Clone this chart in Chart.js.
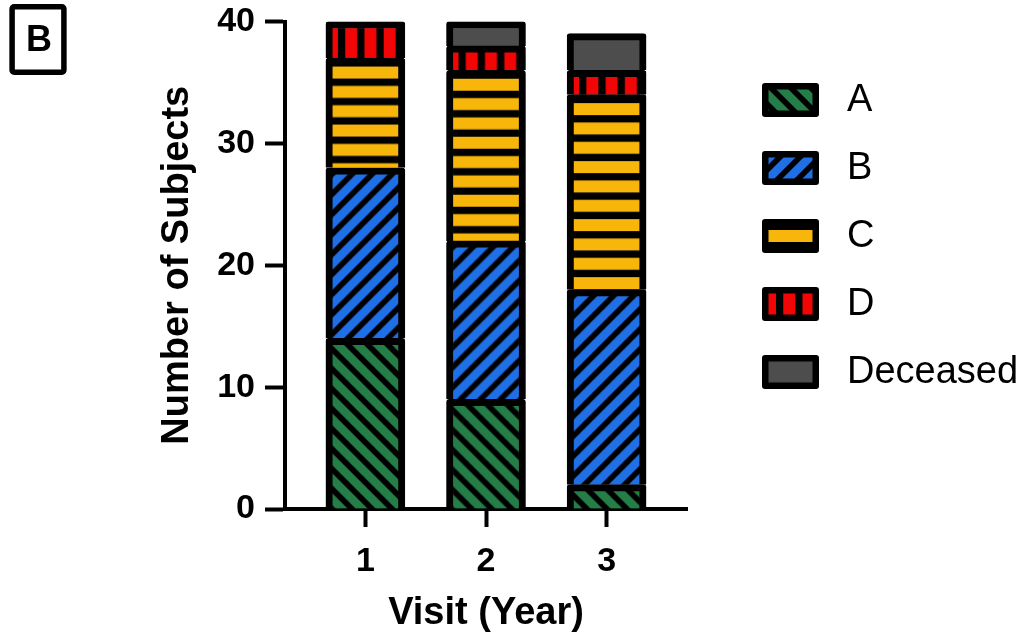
<!DOCTYPE html>
<html>
<head>
<meta charset="utf-8">
<script src="https://cdn.jsdelivr.net/npm/chart.js@4.4.1/dist/chart.umd.min.js"></script>
<style>
  html, body { margin: 0; padding: 0; background: #ffffff; }
  #wrap { width: 1027px; height: 639px; position: relative; }
</style>
</head>
<body>
<div id="wrap"><canvas id="chart" width="1027" height="639"></canvas></div>
<script>
// ---- data ----
const visits = [1, 2, 3];
const groupLabels = ['A', 'B', 'C', 'D', 'Deceased'];
const groupA = [14, 9, 2];
const groupB = [14, 13, 16];
const groupC = [9, 14, 16];
const groupD = [3, 2, 2];
const groupDeceased = [0, 2, 3];
const yTicks = [0, 10, 20, 30, 40];

// ---- styling ----
const FONT = '"Liberation Sans", Arial, Helvetica, sans-serif';
const BAR_W = 79;
const BORDER = 7;
const styles = [
  { kind: 'backslash', color: '#257d47' },
  { kind: 'slash',     color: '#1f6fe6' },
  { kind: 'hstripe',   color: '#f8b60b' },
  { kind: 'vstripe',   color: '#f20505' },
  { kind: 'solid',     color: '#4d4d4d' }
];

// Build a repeating fill for a style (black hatch over the base colour).
const tileCache = {};
function makeTile(style) {
  if (tileCache[style.kind]) return tileCache[style.kind];
  const c = document.createElement('canvas');
  const g = c.getContext('2d');
  if (style.kind === 'slash' || style.kind === 'backslash') {
    const p = 20, w = 8;
    c.width = p; c.height = p;
    g.fillStyle = style.color; g.fillRect(0, 0, p, p);
    g.fillStyle = '#000';
    if (style.kind === 'slash') {
      for (let k = 0; k <= 2; k++) {
        const o = k * p;
        g.beginPath();
        g.moveTo(o, 0); g.lineTo(o + w, 0); g.lineTo(o + w - p, p); g.lineTo(o - p, p);
        g.closePath(); g.fill();
      }
    } else {
      for (let k = -1; k <= 0; k++) {
        const o = k * p;
        g.beginPath();
        g.moveTo(o, 0); g.lineTo(o + w, 0); g.lineTo(o + w + p, p); g.lineTo(o + p, p);
        g.closePath(); g.fill();
      }
    }
  } else if (style.kind === 'hstripe') {
    const period = 58 / 3;
    c.width = 8; c.height = 58;
    g.fillStyle = '#000'; g.fillRect(0, 0, 8, 58);
    g.fillStyle = style.color;
    for (let k = 0; k < 3; k++) g.fillRect(0, k * period, 8, 12);
  } else if (style.kind === 'vstripe') {
    const period = 77 / 4;
    c.width = 77; c.height = 8;
    g.fillStyle = '#000'; g.fillRect(0, 0, 77, 8);
    g.fillStyle = style.color;
    for (let k = 0; k < 4; k++) g.fillRect(k * period, 0, 12, 8);
  } else {
    c.width = 4; c.height = 4;
    g.fillStyle = style.color; g.fillRect(0, 0, 4, 4);
  }
  tileCache[style.kind] = c;
  return c;
}

function patternAt(ctx2d, style, ox, oy) {
  if (style.kind === 'solid') return style.color;
  const pat = ctx2d.createPattern(makeTile(style), 'repeat');
  pat.setTransform(new DOMMatrix().translate(ox, oy));
  return pat;
}

const seriesValues = [groupA, groupB, groupC, groupD, groupDeceased];

function barFill(styleIndex) {
  return function (ctx) {
    const chart = ctx.chart;
    const style = styles[styleIndex];
    if (ctx.type !== 'data' || !chart.scales.x || !chart.scales.y) return style.color;
    const i = ctx.dataIndex;
    let top = 0;
    for (let s = 0; s <= styleIndex; s++) top += seriesValues[s][i] || 0;
    const left = chart.scales.x.getPixelForValue(visits[i]) - BAR_W / 2;
    const topPx = chart.scales.y.getPixelForValue(top);
    return patternAt(chart.ctx, style, left, topPx + 8.5);
  };
}

const datasets = groupLabels.map((label, s) => ({
  label: label,
  data: visits.map((v, i) => ({ x: v, y: seriesValues[s][i] })),
  backgroundColor: barFill(s),
  borderColor: '#000000',
  borderWidth: BORDER,
  borderSkipped: 'start',
  borderRadius: { topLeft: 3, topRight: 3, bottomLeft: 0, bottomRight: 0 },
  barThickness: BAR_W
}));

// Legend drawn to the right of the plot, one swatch per series.
const sideLegend = {
  id: 'sideLegend',
  afterDraw(chart) {
    const ctx = chart.ctx;
    const boxX = 762, boxW = 57, boxH = 34, firstY = 100, gap = 68, textX = 847, bw = 6.5;
    ctx.save();
    chart.data.datasets.forEach((ds, i) => {
      const cy = firstY + i * gap;
      const top = cy - boxH / 2;
      ctx.fillStyle = '#000';
      ctx.beginPath();
      ctx.roundRect(boxX, top, boxW, boxH, 3);
      ctx.fill();
      const st = styles[i];
      let ox = boxX, oy = top;
      if (st.kind === 'hstripe') oy = cy - 6;
      if (st.kind === 'vstripe') ox = boxX + 2;
      ctx.fillStyle = patternAt(ctx, st, ox, oy);
      ctx.fillRect(boxX + bw, top + bw, boxW - 2 * bw, boxH - 2 * bw);
      ctx.fillStyle = '#000';
      ctx.font = '38px ' + FONT;
      ctx.textAlign = 'left';
      ctx.textBaseline = 'middle';
      ctx.fillText(ds.label, textX, cy + 1);
    });
    ctx.restore();
  }
};

// Boxed panel letter in the top-left corner.
const panelTag = {
  id: 'panelTag',
  afterDraw(chart) {
    const ctx = chart.ctx;
    ctx.save();
    ctx.strokeStyle = '#000';
    ctx.lineWidth = 5.5;
    ctx.beginPath();
    ctx.roundRect(12.1, 6.8, 51.8, 65.4, 2);
    ctx.stroke();
    ctx.fillStyle = '#000';
    ctx.font = 'bold 36px ' + FONT;
    ctx.textAlign = 'center';
    ctx.textBaseline = 'middle';
    ctx.fillText('B', 39, 41);
    ctx.restore();
  }
};

function noPadding(scale) {
  scale.paddingTop = 0;
  scale.paddingBottom = 0;
  scale.paddingLeft = 0;
  scale.paddingRight = 0;
}

new Chart(document.getElementById('chart'), {
  type: 'bar',
  data: { datasets: datasets },
  plugins: [sideLegend, panelTag],
  options: {
    responsive: false,
    animation: false,
    devicePixelRatio: 1,
    layout: { padding: { left: 0, right: 340, top: 21.5, bottom: 0 } },
    plugins: { legend: { display: false }, tooltip: { enabled: false } },
    scales: {
      x: {
        type: 'linear',
        min: 1 / 3,
        max: 11 / 3,
        bounds: 'data',
        offset: false,
        stacked: true,
        z: 1,
        afterBuildTicks: (scale) => { scale.ticks = visits.map(v => ({ value: v })); },
        afterFit: (scale) => { scale.height = 130; noPadding(scale); },
        border: { display: true, color: '#000', width: 4 },
        grid: { display: true, offset: false, drawOnChartArea: false, drawTicks: true, tickLength: 18, tickWidth: 4, tickColor: '#000', color: '#000' },
        ticks: { color: '#000', padding: 14, font: { family: FONT, size: 34, weight: 'bold' }, callback: (v) => String(v) },
        title: { display: true, text: 'Visit (Year)', color: '#000', font: { family: FONT, size: 38, weight: 'bold' }, padding: { top: 0, bottom: 3 } }
      },
      y: {
        min: 0,
        max: 40,
        stacked: true,
        afterBuildTicks: (scale) => { scale.ticks = yTicks.map(v => ({ value: v })); },
        afterFit: (scale) => { scale.width = 285; noPadding(scale); },
        border: { display: true, color: '#000', width: 4 },
        grid: { display: true, drawOnChartArea: false, drawTicks: true, tickLength: 20, tickWidth: 4, tickColor: '#000', color: '#000' },
        ticks: { color: '#000', padding: 10, font: { family: FONT, size: 34, weight: 'bold' } },
        title: { display: true, text: 'Number of Subjects', color: '#000', font: { family: FONT, size: 38, weight: 'bold' }, padding: { top: 155, bottom: 0 } }
      }
    }
  }
});
</script>
</body>
</html>
